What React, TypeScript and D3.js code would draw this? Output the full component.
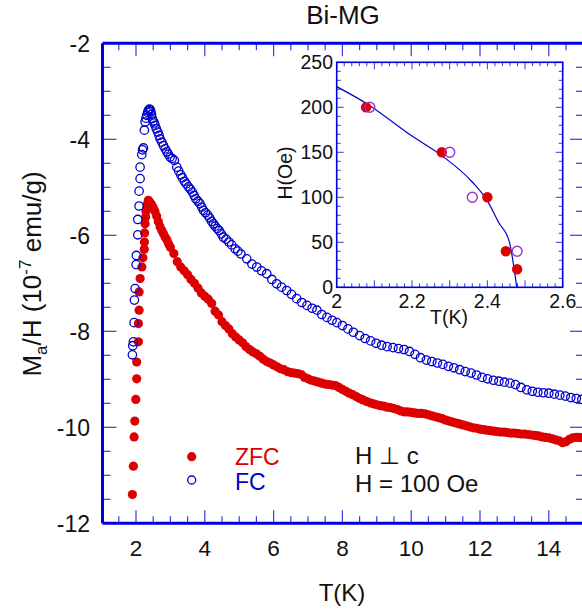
import React from 'react';
import * as d3 from 'd3';

// ---------- DATA ----------
const zfcData: [number, number][] = [
  [1.895,-11.40],[1.924,-10.81],[1.945,-10.20],[1.965,-9.87],[1.994,-9.42],[2.02,-8.99],[2.02,-8.64],[2.07,-8.22],[2.07,-7.84],[2.09,-7.56],[2.09,-7.18],[2.12,-6.90],[2.17,-6.66],[2.20,-6.47],[2.24,-6.29],[2.245,-6.14],[2.25,-5.95],[2.265,-5.76],[2.28,-5.62],[2.29,-5.50],[2.31,-5.44],[2.33,-5.36],[2.36,-5.27],[2.39,-5.30],
  [2.42,-5.33],[2.45,-5.36],[2.50,-5.42],[2.55,-5.50],[2.60,-5.60],[2.65,-5.72],[2.70,-5.82],[2.75,-5.90],[2.80,-5.97],[2.85,-6.04],[2.90,-6.10],[2.95,-6.18],[3.00,-6.25],[3.10,-6.38],[3.20,-6.55],[3.30,-6.66],[3.40,-6.74],[3.50,-6.82],[3.60,-6.92],[3.70,-7.00],[3.80,-7.10],[3.90,-7.20],[4.00,-7.27],[4.10,-7.33],[4.20,-7.42],[4.30,-7.58],[4.40,-7.66],[4.50,-7.80],[4.60,-7.88],[4.70,-7.95],[4.80,-8.05],[4.90,-8.12],
  [5.00,-8.18],[5.10,-8.24],[5.20,-8.32],[5.30,-8.38],[5.40,-8.43],[5.50,-8.47],[5.60,-8.52],[5.70,-8.58],[5.80,-8.63],[5.90,-8.66],[6.00,-8.70],[6.10,-8.74],[6.20,-8.78],[6.30,-8.80],[6.40,-8.84],[6.50,-8.86],[6.60,-8.87],[6.70,-8.88],[6.80,-8.90],[6.90,-8.96],[7.00,-8.99],[7.10,-9.02],[7.20,-9.04],[7.30,-9.06],[7.40,-9.08],[7.50,-9.10],[7.60,-9.11],[7.70,-9.12],[7.80,-9.13],[7.90,-9.17],
  [8.00,-9.21],[8.10,-9.25],[8.20,-9.29],[8.30,-9.32],[8.40,-9.36],[8.50,-9.40],[8.60,-9.43],[8.70,-9.46],[8.80,-9.49],[8.90,-9.51],[9.00,-9.53],[9.10,-9.55],[9.20,-9.56],[9.30,-9.58],[9.40,-9.59],[9.50,-9.61],[9.60,-9.63],[9.70,-9.66],[9.80,-9.68],[9.90,-9.68],
  [10.00,-9.69],[10.10,-9.70],[10.20,-9.71],[10.30,-9.71],[10.40,-9.72],[10.50,-9.74],[10.60,-9.76],[10.70,-9.78],[10.80,-9.80],[10.90,-9.82],[11.00,-9.85],[11.10,-9.87],[11.20,-9.89],[11.30,-9.91],[11.40,-9.93],[11.50,-9.95],[11.60,-9.97],[11.70,-9.99],[11.80,-10.01],[11.90,-10.02],
  [12.00,-10.04],[12.10,-10.05],[12.20,-10.06],[12.30,-10.07],[12.40,-10.08],[12.50,-10.09],[12.60,-10.10],[12.70,-10.10],[12.80,-10.11],[12.90,-10.12],[13.00,-10.12],[13.10,-10.13],[13.20,-10.14],[13.30,-10.14],[13.40,-10.15],[13.50,-10.16],[13.60,-10.17],[13.70,-10.18],[13.80,-10.20],[13.90,-10.21],
  [14.00,-10.22],[14.10,-10.24],[14.20,-10.26],[14.30,-10.28],[14.40,-10.32],[14.50,-10.30],[14.60,-10.25],[14.70,-10.22],[14.80,-10.21],[14.90,-10.21],[15.00,-10.22]
];

const fcData: [number, number][] = [
  [1.895,-8.49],[1.905,-8.30],[1.924,-8.22],[1.945,-7.82],[1.953,-7.35],[1.974,-7.11],[2.003,-6.61],[2.012,-6.42],[2.052,-5.99],[2.052,-5.67],[2.09,-5.39],[2.09,-5.08],[2.119,-4.82],[2.119,-4.58],[2.169,-4.32],[2.19,-4.22],[2.215,-4.18],[2.244,-3.81],[2.265,-3.64],[2.29,-3.56],[2.314,-3.50],[2.34,-3.44],[2.36,-3.40],[2.39,-3.37],[2.41,-3.38],[2.43,-3.42],
  [2.45,-3.48],[2.477,-3.57],[2.50,-3.62],[2.53,-3.66],[2.555,-3.71],[2.59,-3.78],[2.634,-3.85],[2.67,-3.92],[2.70,-3.99],[2.75,-4.06],[2.797,-4.13],[2.85,-4.20],[2.895,-4.26],[2.94,-4.31],[2.99,-4.37],[3.05,-4.40],[3.116,-4.44],[3.186,-4.58],[3.24,-4.66],[3.302,-4.74],[3.35,-4.80],[3.407,-4.875],[3.46,-4.93],[3.523,-4.99],[3.58,-5.04],[3.64,-5.10],[3.69,-5.17],[3.738,-5.24],[3.80,-5.29],[3.86,-5.34],[3.91,-5.41],[3.96,-5.48],[4.02,-5.53],[4.087,-5.58],[4.14,-5.64],[4.20,-5.71],[4.25,-5.76],[4.30,-5.81],[4.36,-5.86],[4.416,-5.90],[4.48,-5.97],[4.54,-6.04],[4.62,-6.08],[4.70,-6.14],[4.78,-6.20],[4.88,-6.28],[4.96,-6.33],
  [5.05,-6.39],[5.22,-6.49],[5.37,-6.60],[5.51,-6.66],[5.65,-6.74],[5.80,-6.80],[5.95,-6.92],[6.09,-7.01],[6.23,-7.08],[6.38,-7.15],[6.52,-7.23],[6.67,-7.32],[6.82,-7.40],[6.97,-7.46],[7.12,-7.52],[7.26,-7.56],[7.40,-7.65],[7.55,-7.71],[7.70,-7.77],[7.84,-7.82],
  [8.00,-7.88],[8.16,-7.95],[8.32,-8.02],[8.50,-8.09],[8.66,-8.15],[8.82,-8.20],[8.98,-8.25],[9.14,-8.29],[9.30,-8.32],[9.47,-8.34],[9.63,-8.36],[9.79,-8.38],[9.95,-8.42],[10.11,-8.48],[10.27,-8.55],[10.44,-8.60],[10.60,-8.63],[10.76,-8.66],[10.92,-8.69],[11.08,-8.73],[11.24,-8.76],[11.41,-8.80],[11.57,-8.84],[11.74,-8.87],[11.90,-8.91],
  [12.06,-8.96],[12.22,-8.99],[12.39,-9.02],[12.55,-9.04],[12.71,-9.06],[12.87,-9.08],[13.03,-9.11],[13.19,-9.17],[13.36,-9.22],[13.52,-9.25],[13.68,-9.27],[13.84,-9.28],[14.00,-9.29],[14.16,-9.31],[14.32,-9.33],[14.48,-9.35],[14.64,-9.38],[14.80,-9.40],[14.96,-9.42]
];

const mainXTicks = [2, 4, 6, 8, 10, 12, 14];
const mainYTicks = [-2, -4, -6, -8, -10, -12];

// inset: H-T phase diagram
const insetZfc: [number, number][] = [[2.078, 200], [2.279, 150], [2.40, 100], [2.449, 40], [2.479, 20]];
const insetFc: [number, number][] = [[2.088, 200], [2.30, 150], [2.36, 100], [2.479, 40]];
const insetFit: [number, number][] = [[2.0, 223], [2.08, 204], [2.2, 168], [2.28, 146], [2.36, 117], [2.40, 96], [2.43, 72], [2.458, 51], [2.478, 0]];
const insetXTicks = [2, 2.2, 2.4, 2.6];
const insetXLabels = ['2', '2.2', '2.4', '2.6'];
const insetYTicks = [0, 50, 100, 150, 200, 250];

// ---------- STYLE ----------
const AX = '#0000dd';
const TK = '#3a3ae6';
const RED = '#dd0000';
const BLUE = '#0000cc';
const PURPLE = '#9933cc';
const FONT = '"Liberation Sans", Arial, Helvetica, sans-serif';

export default function App() {
  const W = 582, H = 613;
  const L = 102.5, R = 584, T = 43.3, B = 523.3;
  const x = d3.scaleLinear().domain([1, 15]).range([101.6, 583.2]);
  const y = d3.scaleLinear().domain([-2, -12]).range([T, B]);

  const xMinor = d3.range(1.5, 15.01, 0.5);
  const yMinor = d3.range(-2.5, -12.01, -0.5);

  // inset
  const iL = 336.7, iR = 562.7, iT = 62.3, iB = 287.3;
  const ix = d3.scaleLinear().domain([2, 2.6]).range([iL, iR]);
  const iy = d3.scaleLinear().domain([0, 250]).range([iB, iT]);
  const ixMinor = d3.range(0, 31).map(i => 2 + i * 0.02);
  const iyMinor = d3.range(0, 26).map(i => i * 10);
  const fitLine = d3.line<[number, number]>().x(d => ix(d[0])).y(d => iy(d[1])).curve(d3.curveMonotoneX);

  return (
    <svg width={W} height={H} style={{ position: 'absolute', left: 0, top: 0, background: '#fff' }} fontFamily={FONT}>
      <rect width={W} height={H} fill="#fff" />
      {/* title */}
      <text x={343} y={23.5} fontSize={26} textAnchor="middle" fill="#111">Bi-MG</text>

      {/* ticks main */}
      {xMinor.map((v, i) => {
        const major = Math.abs(v % 2) < 1e-6;
        const len = major ? 13 : 7;
        return (
          <g key={'xt' + i}>
            <line x1={x(v)} x2={x(v)} y1={B} y2={B - len} stroke={TK} strokeWidth={1.2} />
            <line x1={x(v)} x2={x(v)} y1={T} y2={T + len} stroke={TK} strokeWidth={1.2} />
          </g>
        );
      })}
      {yMinor.map((v, i) => {
        const major = Math.abs(v % 2) < 1e-6;
        const len = major ? 14 : 8;
        return (
          <g key={'yt' + i}>
            <line x1={L} x2={L + len} y1={y(v)} y2={y(v)} stroke={TK} strokeWidth={1.2} />
            <line x1={R} x2={R - len} y1={y(v)} y2={y(v)} stroke={TK} strokeWidth={1.2} />
          </g>
        );
      })}
      {/* frame */}
      <line x1={L} x2={L} y1={T} y2={B} stroke={AX} strokeWidth={3} />
      <line x1={L} x2={R} y1={B} y2={B} stroke={AX} strokeWidth={3} />
      <line x1={L} x2={R} y1={T} y2={T} stroke={AX} strokeWidth={3} />
      <line x1={R} x2={R} y1={T} y2={B} stroke={AX} strokeWidth={3} />

      {/* tick labels */}
      {mainXTicks.map(v => (
        <text key={'xl' + v} x={x(v)} y={555.5} fontSize={22.5} textAnchor="middle" fill="#111">{v}</text>
      ))}
      {mainYTicks.map(v => (
        <text key={'yl' + v} x={90} y={y(v)} dy="0.36em" fontSize={23} textAnchor="end" fill="#111">{v}</text>
      ))}
      <text x={342} y={601} fontSize={24} textAnchor="middle" fill="#111">T(K)</text>
      <text transform="translate(41,274) rotate(-90)" fontSize={26} textAnchor="middle" fill="#111">
        <tspan>M</tspan>
        <tspan dy={6} fontSize={17}>a</tspan>
        <tspan dy={-6}>/H (10</tspan>
        <tspan dy={-10} fontSize={17}>-7</tspan>
        <tspan dy={10}> emu/g)</tspan>
      </text>

      {/* data */}
      <g>
        {zfcData.map((d, i) => (
          <circle key={'z' + i} cx={x(d[0])} cy={y(d[1])} r={4.6} fill={RED} />
        ))}
      </g>
      <g>
        {fcData.map((d, i) => (
          <circle key={'f' + i} cx={x(d[0])} cy={y(d[1])} r={4.2} fill="none" stroke={BLUE} strokeWidth={1.3} />
        ))}
      </g>

      {/* legend */}
      <circle cx={191.7} cy={456.7} r={4.6} fill={RED} />
      <circle cx={191.7} cy={480} r={4} fill="none" stroke={BLUE} strokeWidth={1.3} />
      <text x={235} y={464.5} fontSize={23} fill={RED}>ZFC</text>
      <text x={235} y={490} fontSize={23} fill={BLUE}>FC</text>
      <text x={355} y={464} fontSize={24} fill="#111">H ⊥ c</text>
      <text x={355} y={492} fontSize={24} fill="#111">H = 100 Oe</text>

      {/* inset */}
      <rect x={iL} y={iT} width={iR - iL} height={iB - iT} fill="#fff" />
      {ixMinor.map((v, i) => {
        const major = i % 5 === 0;
        const len = major ? 7 : 4;
        return (
          <g key={'ixt' + i}>
            <line x1={ix(v)} x2={ix(v)} y1={iB} y2={iB - len} stroke={TK} strokeWidth={1} />
            <line x1={ix(v)} x2={ix(v)} y1={iT} y2={iT + len} stroke={TK} strokeWidth={1} />
          </g>
        );
      })}
      {iyMinor.map((v, i) => {
        const major = i % 5 === 0;
        const len = major ? 7 : 4;
        return (
          <g key={'iyt' + i}>
            <line x1={iL} x2={iL + len} y1={iy(v)} y2={iy(v)} stroke={TK} strokeWidth={1} />
            <line x1={iR} x2={iR - len} y1={iy(v)} y2={iy(v)} stroke={TK} strokeWidth={1} />
          </g>
        );
      })}
      <rect x={iL} y={iT} width={iR - iL} height={iB - iT} fill="none" stroke={AX} strokeWidth={1.6} />
      {insetXTicks.map((v, i) => (
        <text key={'ixl' + i} x={ix(v)} y={308} fontSize={19.5} textAnchor="middle" fill="#111">{insetXLabels[i]}</text>
      ))}
      {insetYTicks.map(v => (
        <text key={'iyl' + v} x={333} y={iy(v)} dy="0.36em" fontSize={19.5} textAnchor="end" fill="#111">{v}</text>
      ))}
      <text x={449} y={323.5} fontSize={19.5} textAnchor="middle" fill="#111">T(K)</text>
      <text transform="translate(292,173) rotate(-90)" fontSize={19.5} textAnchor="middle" fill="#111">H(Oe)</text>
      <path d={fitLine(insetFit) || ''} fill="none" stroke={BLUE} strokeWidth={1.2} />
      {insetZfc.map((d, i) => (
        <circle key={'iz' + i} cx={ix(d[0])} cy={iy(d[1])} r={5.2} fill={RED} />
      ))}
      {insetFc.map((d, i) => (
        <circle key={'if' + i} cx={ix(d[0])} cy={iy(d[1])} r={5} fill="none" stroke={PURPLE} strokeWidth={1.4} />
      ))}
    </svg>
  );
}
